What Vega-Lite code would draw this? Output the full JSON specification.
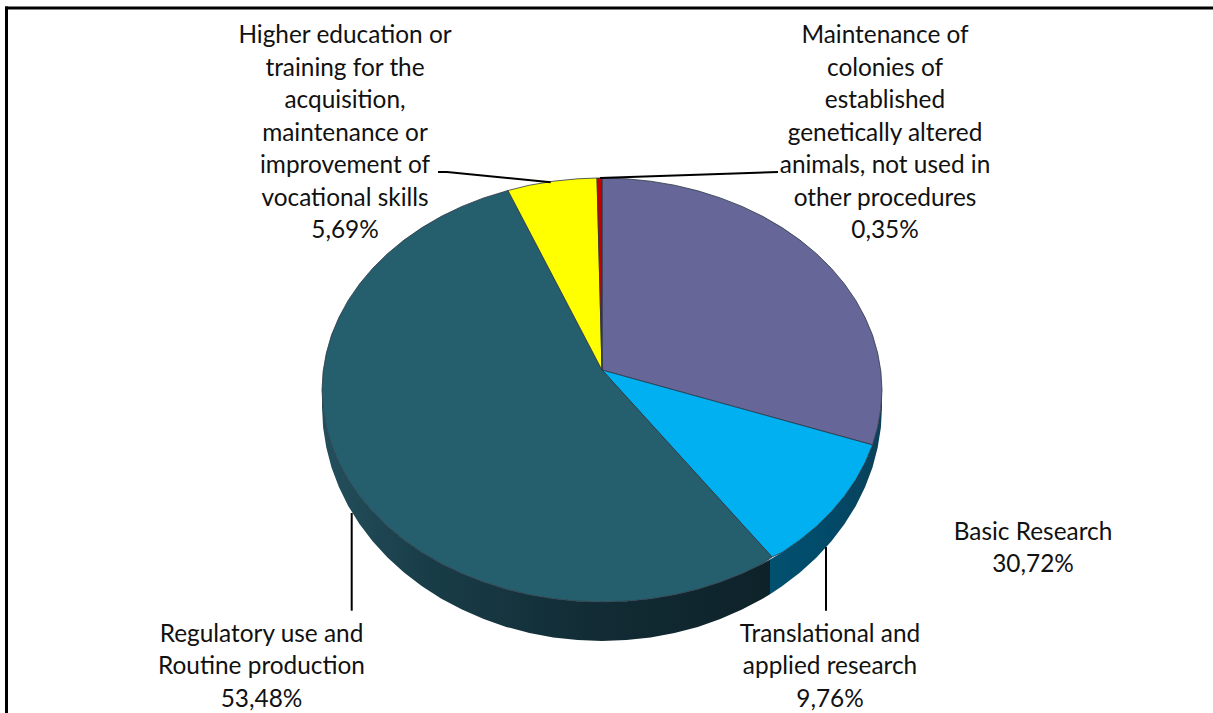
{
"$schema":"https://vega.github.io/schema/vega-lite/v6.json",
"width":1213,"height":713,"padding":0,
"autosize":"none",
"background":"white",
"config":{"view":{"stroke":null}},
"datasets":{
"slices":[
{"slice":"Basic Research","s":0,"x":0,"y":20},{"slice":"Basic Research","s":1,"x":0,"y":212},{"slice":"Basic Research","s":2,"x":24.4,"y":211.2},{"slice":"Basic Research","s":3,"x":48.6,"y":208.8},{"slice":"Basic Research","s":4,"x":72.5,"y":204.8},{"slice":"Basic Research","s":5,"x":95.8,"y":199.2},{"slice":"Basic Research","s":6,"x":118.3,"y":192.1},{"slice":"Basic Research","s":7,"x":140,"y":183.6},{"slice":"Basic Research","s":8,"x":160.6,"y":173.7},{"slice":"Basic Research","s":9,"x":180,"y":162.4},{"slice":"Basic Research","s":10,"x":198,"y":149.9},{"slice":"Basic Research","s":11,"x":214.5,"y":136.3},{"slice":"Basic Research","s":12,"x":229.4,"y":121.6},{"slice":"Basic Research","s":13,"x":242.5,"y":106},{"slice":"Basic Research","s":14,"x":253.8,"y":89.6},{"slice":"Basic Research","s":15,"x":263.1,"y":72.5},{"slice":"Basic Research","s":16,"x":270.5,"y":54.9},{"slice":"Basic Research","s":17,"x":275.7,"y":36.8},{"slice":"Basic Research","s":18,"x":278.9,"y":18.5},{"slice":"Basic Research","s":19,"x":280,"y":0},{"slice":"Basic Research","s":20,"x":278.9,"y":-18.5},{"slice":"Basic Research","s":21,"x":275.7,"y":-36.8},{"slice":"Basic Research","s":22,"x":270.5,"y":-54.9},{"slice":"Basic Research","s":23,"x":0,"y":20},
{"slice":"Translational","s":0,"x":0,"y":20},{"slice":"Translational","s":1,"x":270.5,"y":-54.9},{"slice":"Translational","s":2,"x":263.1,"y":-72.5},{"slice":"Translational","s":3,"x":253.8,"y":-89.6},{"slice":"Translational","s":4,"x":242.5,"y":-106},{"slice":"Translational","s":5,"x":229.4,"y":-121.6},{"slice":"Translational","s":6,"x":214.5,"y":-136.3},{"slice":"Translational","s":7,"x":198,"y":-149.9},{"slice":"Translational","s":8,"x":180,"y":-162.4},{"slice":"Translational","s":9,"x":170,"y":-167},{"slice":"Translational","s":10,"x":0,"y":20},
{"slice":"Regulatory","s":0,"x":0,"y":20},{"slice":"Regulatory","s":1,"x":170,"y":-167},{"slice":"Regulatory","s":2,"x":160.6,"y":-173.7},{"slice":"Regulatory","s":3,"x":140,"y":-183.6},{"slice":"Regulatory","s":4,"x":118.3,"y":-192.1},{"slice":"Regulatory","s":5,"x":95.8,"y":-199.2},{"slice":"Regulatory","s":6,"x":72.5,"y":-204.8},{"slice":"Regulatory","s":7,"x":48.6,"y":-208.8},{"slice":"Regulatory","s":8,"x":24.4,"y":-211.2},{"slice":"Regulatory","s":9,"x":0,"y":-212},{"slice":"Regulatory","s":10,"x":-24.4,"y":-211.2},{"slice":"Regulatory","s":11,"x":-48.6,"y":-208.8},{"slice":"Regulatory","s":12,"x":-72.5,"y":-204.8},{"slice":"Regulatory","s":13,"x":-95.8,"y":-199.2},{"slice":"Regulatory","s":14,"x":-118.3,"y":-192.1},{"slice":"Regulatory","s":15,"x":-140,"y":-183.6},{"slice":"Regulatory","s":16,"x":-160.6,"y":-173.7},{"slice":"Regulatory","s":17,"x":-180,"y":-162.4},{"slice":"Regulatory","s":18,"x":-198,"y":-149.9},{"slice":"Regulatory","s":19,"x":-214.5,"y":-136.3},{"slice":"Regulatory","s":20,"x":-229.4,"y":-121.6},{"slice":"Regulatory","s":21,"x":-242.5,"y":-106},{"slice":"Regulatory","s":22,"x":-253.8,"y":-89.6},{"slice":"Regulatory","s":23,"x":-263.1,"y":-72.5},{"slice":"Regulatory","s":24,"x":-270.5,"y":-54.9},{"slice":"Regulatory","s":25,"x":-275.7,"y":-36.8},{"slice":"Regulatory","s":26,"x":-278.9,"y":-18.5},{"slice":"Regulatory","s":27,"x":-280,"y":0},{"slice":"Regulatory","s":28,"x":-278.9,"y":18.5},{"slice":"Regulatory","s":29,"x":-275.7,"y":36.8},{"slice":"Regulatory","s":30,"x":-270.5,"y":54.9},{"slice":"Regulatory","s":31,"x":-263.1,"y":72.5},{"slice":"Regulatory","s":32,"x":-253.8,"y":89.6},{"slice":"Regulatory","s":33,"x":-242.5,"y":106},{"slice":"Regulatory","s":34,"x":-229.4,"y":121.6},{"slice":"Regulatory","s":35,"x":-214.5,"y":136.3},{"slice":"Regulatory","s":36,"x":-198,"y":149.9},{"slice":"Regulatory","s":37,"x":-180,"y":162.4},{"slice":"Regulatory","s":38,"x":-160.6,"y":173.7},{"slice":"Regulatory","s":39,"x":-140,"y":183.6},{"slice":"Regulatory","s":40,"x":-118.3,"y":192.1},{"slice":"Regulatory","s":41,"x":-94,"y":199.5},{"slice":"Regulatory","s":42,"x":0,"y":20},
{"slice":"Higher education","s":0,"x":0,"y":20},{"slice":"Higher education","s":1,"x":-94,"y":199.5},{"slice":"Higher education","s":2,"x":-72.5,"y":204.8},{"slice":"Higher education","s":3,"x":-48.6,"y":208.8},{"slice":"Higher education","s":4,"x":-24.4,"y":211.2},{"slice":"Higher education","s":5,"x":-5,"y":212},{"slice":"Higher education","s":6,"x":0,"y":20},
{"slice":"Maintenance","s":0,"x":0,"y":20},{"slice":"Maintenance","s":1,"x":-5,"y":212},{"slice":"Maintenance","s":2,"x":0,"y":212},{"slice":"Maintenance","s":3,"x":0,"y":20}
],
"wallTeal":[
{"x":-280,"y":0,"y2":-17},{"x":-278.9,"y":-18.5,"y2":-37.4},{"x":-275.7,"y":-36.8,"y2":-57.6},{"x":-270.5,"y":-54.9,"y2":-77.6},{"x":-263.1,"y":-72.5,"y2":-97},{"x":-253.8,"y":-89.6,"y2":-115.9},{"x":-242.5,"y":-106,"y2":-134},{"x":-229.4,"y":-121.6,"y2":-151.2},{"x":-214.5,"y":-136.3,"y2":-167.4},{"x":-198,"y":-149.9,"y2":-182.5},{"x":-180,"y":-162.4,"y2":-196.2},{"x":-160.6,"y":-173.7,"y2":-208.7},{"x":-140,"y":-183.6,"y2":-219.6},{"x":-118.3,"y":-192.1,"y2":-229.1},{"x":-95.8,"y":-199.2,"y2":-236.9},{"x":-72.5,"y":-204.8,"y2":-243},{"x":-48.6,"y":-208.8,"y2":-247.4},{"x":-24.4,"y":-211.2,"y2":-250.1},{"x":0,"y":-212,"y2":-251},{"x":24.4,"y":-211.2,"y2":-250.1},{"x":48.6,"y":-208.8,"y2":-247.4},{"x":72.5,"y":-204.8,"y2":-243},{"x":95.8,"y":-199.2,"y2":-236.9},{"x":118.3,"y":-192.1,"y2":-229.1},{"x":140,"y":-183.6,"y2":-219.6},{"x":160.6,"y":-173.7,"y2":-208.7},{"x":168,"y":-169.6,"y2":-204.2}
],
"wallBlue":[
{"x":168,"y":-169.6,"y2":-204.2},{"x":180,"y":-162.4,"y2":-196.2},{"x":198,"y":-149.9,"y2":-182.5},{"x":214.5,"y":-136.3,"y2":-167.4},{"x":229.4,"y":-121.6,"y2":-151.2},{"x":242.5,"y":-106,"y2":-134},{"x":253.8,"y":-89.6,"y2":-115.9},{"x":263.1,"y":-72.5,"y2":-97},{"x":270.5,"y":-54.9,"y2":-77.6},{"x":275.7,"y":-36.8,"y2":-57.6},{"x":278.9,"y":-18.5,"y2":-37.4},{"x":280,"y":0,"y2":-17}
],
"leaders":[
{"id":"a","s":0,"x":-164,"y":218},{"id":"a","s":1,"x":-155,"y":218},{"id":"a","s":2,"x":-51.3,"y":207.7},
{"id":"b","s":0,"x":-2,"y":212},{"id":"b","s":1,"x":176,"y":218},
{"id":"c","s":0,"x":224,"y":-157},{"id":"c","s":1,"x":224,"y":-220.7},
{"id":"d","s":0,"x":-250.3,"y":-123},{"id":"d","s":1,"x":-250.3,"y":-220.7}
],
"frame":[
{"id":"top","s":0,"x":-597,"y":382},{"id":"top","s":1,"x":611,"y":382},
{"id":"left","s":0,"x":-595.5,"y":383.5},{"id":"left","s":1,"x":-595.5,"y":-323}
],
"labels":[
{"x":-257,"y":347,"t":"Higher education or"},{"x":-257,"y":314,"t":"training for the"},{"x":-257,"y":282,"t":"acquisition,"},{"x":-257,"y":249,"t":"maintenance or"},{"x":-257,"y":217,"t":"improvement of"},{"x":-257,"y":184,"t":"vocational skills"},{"x":-257,"y":152,"t":"5,69%"},
{"x":283,"y":347,"t":"Maintenance of"},{"x":283,"y":314,"t":"colonies of"},{"x":283,"y":282,"t":"established"},{"x":283,"y":249,"t":"genetically altered"},{"x":283,"y":217,"t":"animals, not used in"},{"x":283,"y":184,"t":"other procedures"},{"x":283,"y":152,"t":"0,35%"},
{"x":431,"y":-150,"t":"Basic Research"},{"x":431,"y":-182,"t":"30,72%"},
{"x":228,"y":-252,"t":"Translational and"},{"x":228,"y":-284,"t":"applied research"},{"x":228,"y":-317,"t":"9,76%"},
{"x":-340.5,"y":-252,"t":"Regulatory use and"},{"x":-340.5,"y":-284,"t":"Routine production"},{"x":-340.5,"y":-317,"t":"53,48%"}
]
},
"encoding":{
"x":{"field":"x","type":"quantitative","axis":null,"scale":{"domain":[-602,611],"nice":false,"zero":false}},
"y":{"field":"y","type":"quantitative","axis":null,"scale":{"domain":[-323,390],"nice":false,"zero":false}}
},
"layer":[
{"data":{"name":"wallBlue"},"mark":{"type":"area","fill":{"gradient":"linear","x1":0,"y1":0,"x2":1,"y2":0,"stops":[{"offset":0,"color":"#02506f"},{"offset":0.5,"color":"#014a6a"},{"offset":1,"color":"#0b4058"}]}},"encoding":{"y2":{"field":"y2"}}},
{"data":{"name":"wallTeal"},"mark":{"type":"area","fill":{"gradient":"linear","x1":0,"y1":0,"x2":1,"y2":0,"stops":[{"offset":0,"color":"#234f5c"},{"offset":0.25,"color":"#183c47"},{"offset":0.6,"color":"#122c35"},{"offset":1,"color":"#0e2229"}]}},"encoding":{"y2":{"field":"y2"}}},
{"data":{"name":"slices"},"mark":{"type":"line","stroke":"#2b3644","strokeWidth":0.8,"strokeJoin":"round"},
"encoding":{"order":{"field":"s","type":"quantitative"},"detail":{"field":"slice"},
"fill":{"field":"slice","type":"nominal","legend":null,"scale":{"domain":["Basic Research","Translational","Regulatory","Higher education","Maintenance"],"range":["#666699","#00B0F0","#255E6C","#FFFF00","#C00000"]}}}},
{"data":{"name":"leaders"},"mark":{"type":"line","stroke":"#000000","strokeWidth":2},"encoding":{"order":{"field":"s","type":"quantitative"},"detail":{"field":"id"}}},
{"data":{"name":"frame"},"mark":{"type":"line","stroke":"#000000","strokeWidth":3},"encoding":{"order":{"field":"s","type":"quantitative"},"detail":{"field":"id"}}},
{"data":{"name":"labels"},"mark":{"type":"text","font":"Lato","fontSize":24.4,"align":"center","baseline":"alphabetic","fill":"#111111"},"encoding":{"text":{"field":"t"}}}
]
}
